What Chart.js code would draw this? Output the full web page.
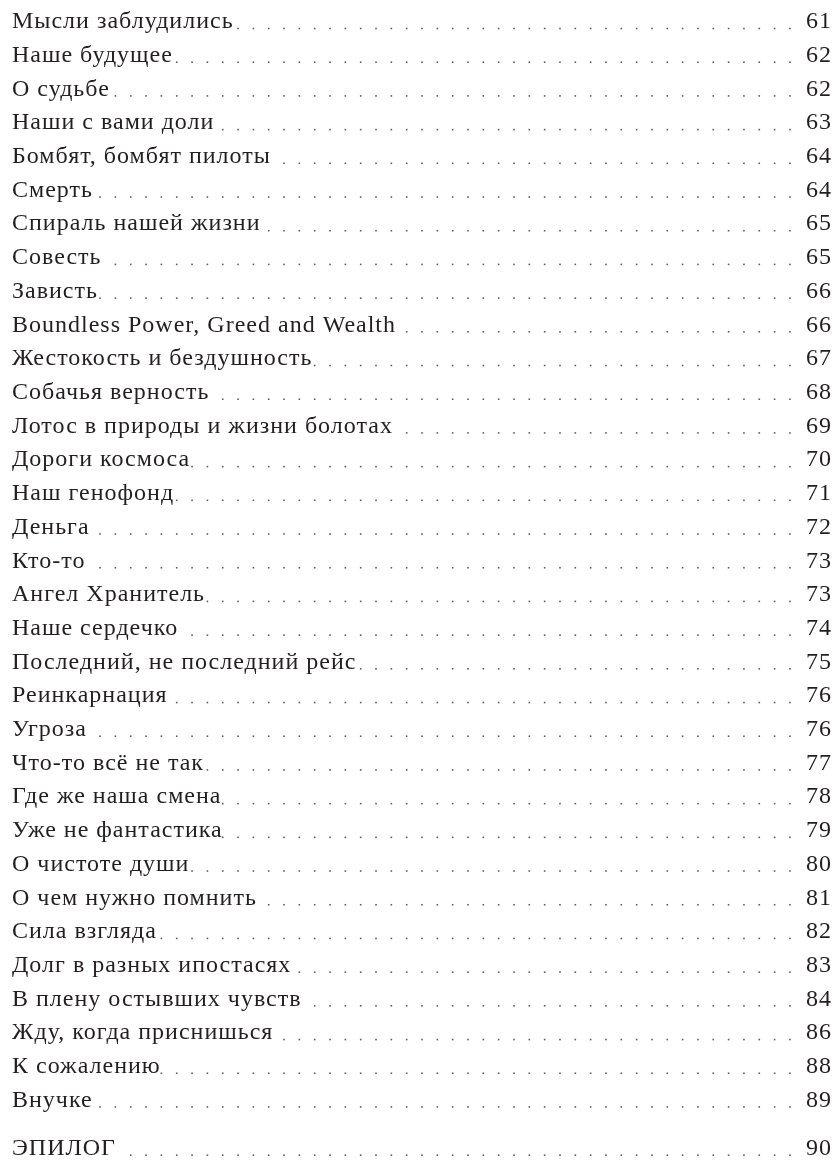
<!DOCTYPE html>
<html>
<head>
<meta charset="utf-8">
<script src="https://cdn.jsdelivr.net/npm/chart.js@4"></script>
<style>
  html, body { margin: 0; padding: 0; background: #fff; }
  #wrap { width: 838px; height: 1160px; position: relative; }
</style>
</head>
<body>
<div id="wrap"><canvas id="toc"></canvas></div>
<script>
// Table of contents: titles and their page numbers
const titles = [
  "Мысли заблудились",
  "Наше будущее",
  "О судьбе",
  "Наши с вами доли",
  "Бомбят, бомбят пилоты",
  "Смерть",
  "Спираль нашей жизни",
  "Совесть",
  "Зависть",
  "Boundless Power, Greed and Wealth",
  "Жестокость и бездушность",
  "Собачья верность",
  "Лотос в природы и жизни болотах",
  "Дороги космоса",
  "Наш генофонд",
  "Деньга",
  "Кто-то",
  "Ангел Хранитель",
  "Наше сердечко",
  "Последний, не последний рейс",
  "Реинкарнация",
  "Угроза",
  "Что-то всё не так",
  "Где же наша смена",
  "Уже не фантастика",
  "О чистоте души",
  "О чем нужно помнить",
  "Сила взгляда",
  "Долг в разных ипостасях",
  "В плену остывших чувств",
  "Жду, когда приснишься",
  "К сожалению",
  "Внучке",
  "ЭПИЛОГ",
];
const pages = [61, 62, 62, 63, 64, 64, 65, 65, 66, 66, 67, 68, 69, 70, 71, 72, 73,
  73, 74, 75, 76, 76, 77, 78, 79, 80, 81, 82, 83, 84, 86, 88, 89, 90];

// the epilogue sits a bit lower than the regular rows
const epilogueIndex = 33;
const epilogueGap = 0.43;

const rows = titles.map((t, i) => (i >= epilogueIndex ? i + epilogueGap : i));

const FONT = { family: "'Liberation Serif', 'DejaVu Serif', serif", size: 24 };
const INK = "#231f20";
const SPACING = "1px";

// the print face runs a little wider than Liberation Serif
const tracking = {
  id: "tracking",
  beforeUpdate(chart) { chart.ctx.letterSpacing = SPACING; },
  beforeDraw(chart) { chart.ctx.letterSpacing = SPACING; },
};

// dotted leaders between title and page number
const leaders = {
  id: "leaders",
  afterDraw(chart) {
    const ctx = chart.ctx;
    const left = chart.scales.y;
    const right = chart.scales.y2;
    const step = 15.33;
    const phase = 8.1;
    const drop = FONT.size * 0.305;
    ctx.save();
    ctx.font = FONT.size + "px " + FONT.family;
    ctx.letterSpacing = SPACING;
    ctx.fillStyle = "#5e5e5e";
    left.ticks.forEach((tick, i) => {
      const base = left.getPixelForValue(tick.value) + drop;
      const start = left.left + ctx.measureText(titles[i]).width;
      const end = right.right - ctx.measureText(String(pages[i])).width - 1;
      for (let x = phase; x < end; x += step) {
        if (x >= start) ctx.fillRect(x - 0.8, base - 1.6, 1.6, 1.6);
      }
    });
    ctx.restore();
  },
};

const tickList = (scale) => {
  scale.ticks = rows.map((v) => ({ value: v }));
};

new Chart(document.getElementById("toc"), {
  type: "scatter",
  data: {
    datasets: [
      {
        data: pages.map((p, i) => ({ x: p, y: rows[i] })),
        pointRadius: 0,
        showLine: false,
      },
    ],
  },
  options: {
    responsive: true,
    maintainAspectRatio: false,
    animation: false,
    layout: { padding: { left: 12, right: 6, top: 0, bottom: 0 } },
    plugins: { legend: { display: false }, tooltip: { enabled: false } },
    scales: {
      x: { display: false, min: 50, max: 100 },
      y: {
        position: "left",
        reverse: true,
        min: -0.225,
        max: 33.34,
        afterBuildTicks: tickList,
        afterFit: (scale) => { scale.width = 440; },
        grid: { display: false },
        border: { display: false },
        ticks: {
          autoSkip: false,
          crossAlign: "far",
          padding: 0,
          color: INK,
          font: FONT,
          callback: (v, i) => titles[i],
        },
      },
      y2: {
        position: "right",
        reverse: true,
        min: -0.225,
        max: 33.34,
        afterBuildTicks: tickList,
        afterFit: (scale) => { scale.width = 40; },
        grid: { display: false },
        border: { display: false },
        ticks: {
          autoSkip: false,
          crossAlign: "far",
          padding: 0,
          color: INK,
          font: FONT,
          callback: (v, i) => String(pages[i]),
        },
      },
    },
  },
  plugins: [tracking, leaders],
});
</script>
</body>
</html>
